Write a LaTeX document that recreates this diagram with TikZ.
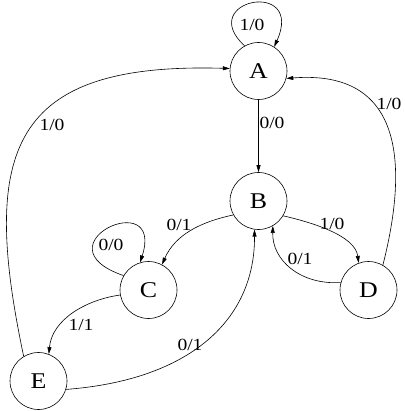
\documentclass[tikz,border=0pt]{standalone}
\usepackage{fontspec}
\usepackage{graphicx}
\setmainfont{Liberation Serif}
\usetikzlibrary{arrows.meta}
\newcommand{\sx}[1]{\scalebox{1.15}[1]{#1}}
\tikzset{
  state/.style={circle, draw, line width=0.6pt, minimum size=57pt, inner sep=0pt, font=\fontsize{22.5}{22.5}\selectfont},
  lbl/.style={inner sep=0pt, font=\fontsize{17}{17}\selectfont},
  edge/.style={line width=0.6pt, -{Triangle[length=7pt,width=4pt]}}
}
\begin{document}
\begin{tikzpicture}[x=1pt,y=-1pt]
\useasboundingbox (0,0) rectangle (404,411);
% states
\node[state] (A) at (258.5,71) {\sx{A}};
\node[state] (B) at (258.5,201) {\sx{B}};
\node[state] (C) at (148.5,290) {\sx{C}};
\node[state] (D) at (368.5,290) {\sx{D}};
\node[state] (E) at (38.5,381) {\sx{E}};
% transitions
\draw[edge] (A.119) .. controls (195,0) and (305,-22) .. (A.57);
\node[lbl] (lAA) at (252,25) {\sx{1/0}};
\draw[edge] (A) -- (B);
\node[lbl] (lAB) at (272,123) {\sx{0/0}};
\draw[edge] (E.121) .. controls (-20,150) and (10,62) .. (A.175);
\node[lbl] (lEA) at (52,125) {\sx{1/0}};
\draw[edge] (D.60) .. controls (412,150) and (395,70) .. (A.345);
\node[lbl] (lDA) at (389,104) {\sx{1/0}};
\draw[edge] (B.209) .. controls (200,222) and (175,235) .. (C.62);
\node[lbl] (lBC) at (179,225) {\sx{0/1}};
\draw[edge] (C.150) .. controls (35,245) and (165,185) .. (C.107);
\node[lbl] (lCC) at (111,245) {\sx{0/0}};
\draw[edge] (B.329) .. controls (310,222) and (355,235) .. (D.110);
\node[lbl] (lBD) at (332,224) {\sx{1/0}};
\draw[edge] (D.165) .. controls (300,285) and (272,260) .. (B.300);
\node[lbl] (lDB) at (300,259) {\sx{0/1}};
\draw[edge] (C.190) .. controls (85,300) and (52,320) .. (E.69);
\node[lbl] (lCE) at (81,325) {\sx{1/1}};
\draw[edge] (E.343) .. controls (190,380) and (255,320) .. (B.262);
\node[lbl] (lEB) at (190,345) {\sx{0/1}};
\end{tikzpicture}
\end{document}
